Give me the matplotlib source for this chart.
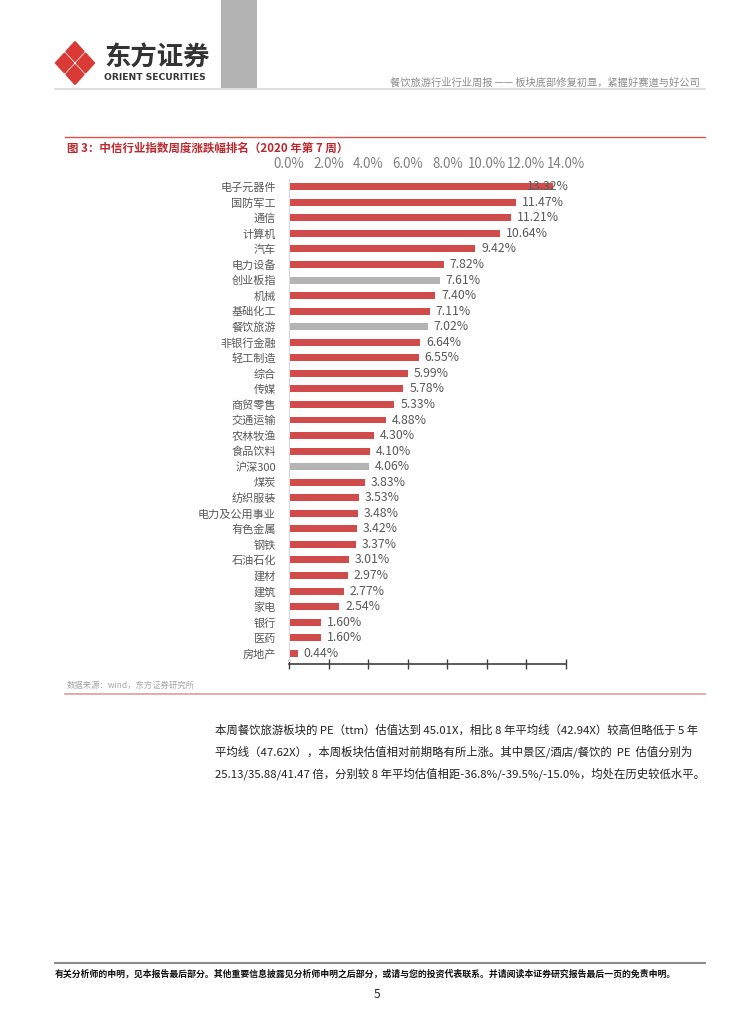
import matplotlib
matplotlib.use("Agg")
import matplotlib.pyplot as plt
from matplotlib.patches import Polygon, Rectangle

plt.rcParams['font.family'] = ['Noto Sans CJK SC', 'DejaVu Sans']

# data
industries = ["电子元器件", "国防军工", "通信", "计算机", "汽车", "电力设备", "创业板指", "机械",
              "基础化工", "餐饮旅游", "非银行金融", "轻工制造", "综合", "传媒", "商贸零售", "交通运输",
              "农林牧渔", "食品饮料", "沪深300", "煤炭", "纺织服装", "电力及公用事业", "有色金属", "钢铁",
              "石油石化", "建材", "建筑", "家电", "银行", "医药", "房地产"]
changes = [13.32, 11.47, 11.21, 10.64, 9.42, 7.82, 7.61, 7.40, 7.11, 7.02, 6.64, 6.55, 5.99, 5.78,
           5.33, 4.88, 4.30, 4.10, 4.06, 3.83, 3.53, 3.48, 3.42, 3.37, 3.01, 2.97, 2.77, 2.54,
           1.60, 1.60, 0.44]
highlight = ["创业板指", "餐饮旅游", "沪深300"]
xticks = [0, 2, 4, 6, 8, 10, 12, 14]

RED = "#D24B4B"
GREY_BAR = "#B4B4B4"
W, H = 754, 1024

fig = plt.figure(figsize=(W / 100, H / 100), dpi=100)

# page layer in pixel coordinates
page = fig.add_axes([0, 0, 1, 1])
page.set_xlim(0, W)
page.set_ylim(H, 0)
page.axis("off")

# header
page.add_patch(Rectangle((221, 0), 36, 88, color="#B3B3B3", lw=0))
page.plot([55, 705], [89, 89], color="#D9D9D9", lw=1.2)
cx, cy, a, b = 75, 63, 21, 23
for dx, dy in [(0, -b / 2), (-a / 2, 0), (a / 2, 0), (0, b / 2)]:
    x0, y0 = cx + dx, cy + dy
    ha, hb = a / 2 * 0.82, b / 2 * 0.82
    page.add_patch(Polygon([(x0, y0 - hb), (x0 + ha, y0), (x0, y0 + hb), (x0 - ha, y0)],
                           closed=True, color="#D93A35", lw=1.5, joinstyle="round"))
page.text(104, 58, "东方证券", fontsize=19, fontweight="bold", color="#333333", va="center")
page.text(104, 77, "ORIENT SECURITIES", fontsize=6.6, fontweight="bold", color="#333333",
          va="center", family=["DejaVu Sans"])
page.text(700, 83, "餐饮旅游行业行业周报 —— 板块底部修复初显，紧握好赛道与好公司",
          fontsize=7.4, color="#8C8C8C", ha="right", va="center")

# figure title block
page.plot([65, 705], [137, 137], color="#D9534F", lw=1)
page.text(67, 148, "图 3：中信行业指数周度涨跌幅排名（2020 年第 7 周）", fontsize=8.3,
          fontweight="bold", color="#C0272D", va="center")
page.text(67, 685, "数据来源：wind，东方证券研究所", fontsize=6, color="#A6A6A6", va="center")
page.plot([65, 705], [694, 694], color="#E49A9A", lw=1.2)

# body text
para = ["本周餐饮旅游板块的 PE（ttm）估值达到 45.01X，相比 8 年平均线（42.94X）较高但略低于 5 年",
        "平均线（47.62X），本周板块估值相对前期略有所上涨。其中景区/酒店/餐饮的  PE  估值分别为",
        "25.13/35.88/41.47 倍，分别较 8 年平均估值相距-36.8%/-39.5%/-15.0%，均处在历史较低水平。"]
for i, line in enumerate(para):
    page.text(215, 730 + 22 * i, line, fontsize=8.2, color="#222222", va="center")

# footer
page.plot([55, 705], [963, 963], color="#8C8C8C", lw=1.5)
page.text(55, 974, "有关分析师的申明，见本报告最后部分。其他重要信息披露见分析师申明之后部分，或请与您的投资代表联系。并请阅读本证券研究报告最后一页的免责申明。",
          fontsize=6.4, fontweight="bold", color="#111111", va="center")
page.text(377, 994, "5", fontsize=8.5, color="#222222", ha="center", va="center")

# chart
top_px, bot_px, left_px, right_px = 179, 661, 289, 566
ax = fig.add_axes([left_px / W, 1 - bot_px / H, (right_px - left_px) / W, (bot_px - top_px) / H])
ax.patch.set_alpha(0)
ypos = list(range(len(industries)))
colors = [GREY_BAR if n in highlight else RED for n in industries]
ax.barh(ypos, changes, height=0.45, color=colors)
for y, v in zip(ypos, changes):
    ax.text(min(v + 0.3, 12.0), y, f"{v:.2f}%", fontsize=8.8, color="#595959", va="center", ha="left")
ax.set_xlim(0, 14)
ax.set_ylim(len(industries) - 0.5, -0.5)
ax.set_yticks(ypos)
ax.set_yticklabels(industries)
ax.set_xticks(xticks)
ax.set_xticklabels([f"{t:.1f}%" for t in xticks])
ax.tick_params(axis="x", top=False, labeltop=True, bottom=True, labelbottom=False,
               direction="inout", length=7, width=1, color="#404040", pad=2,
               labelsize=9.6, labelcolor="#7F7F7F")
ax.tick_params(axis="y", left=False, pad=6, labelsize=8, labelcolor="#595959")
for s in ["top", "right"]:
    ax.spines[s].set_visible(False)
ax.spines["left"].set_color("#D9D9D9")
ax.spines["bottom"].set_color("#404040")
ax.spines["bottom"].set_linewidth(1.2)
ax.spines["bottom"].set_position(("outward", 2))

fig.savefig("out.png", dpi=100)
